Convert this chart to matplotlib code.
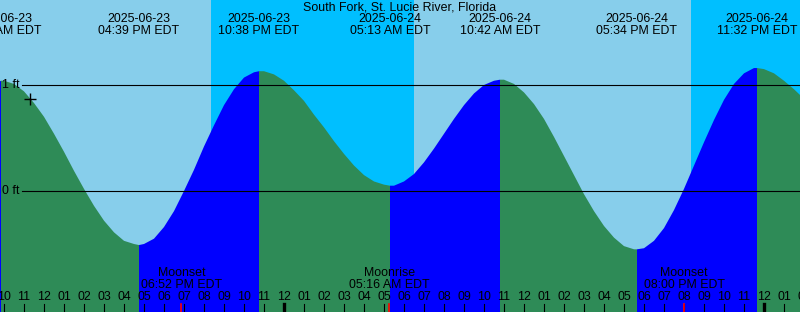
import numpy as np
import matplotlib.pyplot as plt

# Gezeiten South Fork, St. Lucie River - Stunden ab 2025-06-23 00:00 EDT
title = "South Fork, St. Lucie River, Florida"

# Pegel (ft) jede halbe Stunde
hours = np.arange(10, 50.01, 0.5)
levels = [1.04, 1.01, 0.94, 0.83, 0.70, 0.54, 0.37, 0.19, 0.02, -0.14,
          -0.28, -0.39, -0.47, -0.50, -0.50, -0.45, -0.34, -0.19, 0.00, 0.20,
          0.42, 0.62, 0.81, 0.96, 1.07, 1.12, 1.13, 1.10, 1.04, 0.95,
          0.85, 0.72, 0.60, 0.47, 0.35, 0.24, 0.15, 0.09, 0.06, 0.05,
          0.09, 0.16, 0.27, 0.40, 0.54, 0.68, 0.81, 0.92, 1.00, 1.04,
          1.05, 1.01, 0.93, 0.82, 0.68, 0.51, 0.33, 0.15, -0.03, -0.19,
          -0.33, -0.44, -0.52, -0.55, -0.54, -0.47, -0.35, -0.18, 0.02, 0.24,
          0.46, 0.67, 0.86, 1.01, 1.11, 1.16, 1.15, 1.11, 1.04, 0.96,
          0.87]

# Hoch- und Niedrigwasser
ext_hours = [9.85, 16.75, 22.75, 29.3, 34.8, 41.65, 47.65]
ext_levels = [1.04, -0.51, 1.13, 0.05, 1.05, -0.55, 1.16]
ext_dates = ["2025-06-23", "2025-06-23", "2025-06-23", "2025-06-24",
             "2025-06-24", "2025-06-24", "2025-06-24"]
ext_times = ["09:47 AM EDT", "04:39 PM EDT", "10:38 PM EDT", "05:13 AM EDT",
             "10:42 AM EDT", "05:34 PM EDT", "11:32 PM EDT"]

# Nacht (Sonnenuntergang - Sonnenaufgang)
night = [(20.35, 30.5), (44.35, 52.0)]

# Mond
moon_hours = [18.87, 29.27, 44.0]
moon_names = ["Moonset", "Moonrise", "Moonset"]
moon_times = ["06:52 PM EDT", "05:16 AM EDT", "08:00 PM EDT"]

tick_hours = np.arange(10, 51)
t0, t1 = 9.8, 49.8
fs = 8.9
plt.rcParams['font.family'] = ['Liberation Sans', 'DejaVu Sans']


def yp(p):
    # Pixelzeile -> Fuss
    return (191 - p) / 106


# Kurve zusammensetzen
t = np.concatenate([[9.8], hours, ext_hours])
h = np.concatenate([[1.035], levels, ext_levels])
idx = np.argsort(t)
t, h = t[idx], h[idx]

fig = plt.figure(figsize=(8, 3.12), dpi=100)
ax = fig.add_axes([0, 0, 1, 1])
ax.set_xlim(t0, t1)
ax.set_ylim(yp(312), yp(0))
ax.axis('off')

ax.axvspan(t0, t1, color='#87ceeb', lw=0)
for a, b in night:
    ax.axvspan(a, b, color='#00bfff', lw=0)

# steigend blau, fallend gruen
grenzen = [t[0]] + ext_hours + [t[-1]]
for a, b in zip(grenzen[:-1], grenzen[1:]):
    m = (t >= a) & (t <= b)
    steigt = h[m][-1] > h[m][0]
    ax.fill_between(t[m], h[m], -5, color='#0000ff' if steigt else '#2e8b57', lw=0)

# Hilfslinien 0 ft / 1 ft
for lev in [0, 1]:
    ax.plot([10.9, t1], [lev, lev], color='black', lw=0.8)
    ax.text(9.9, lev, f"{lev} ft", ha='left', va='center', fontsize=fs)

ax.plot(11.3, yp(99), marker='+', ms=9, mew=1, color='black')

ax.text(29.8, yp(7), title, ha='center', va='center', fontsize=fs)
for th, d, s in zip(ext_hours, ext_dates, ext_times):
    ax.text(th, yp(19), d, ha='center', va='center', fontsize=fs)
    ax.text(th, yp(31), s, ha='center', va='center', fontsize=fs)

# Stundenskala
for hr in tick_hours:
    ax.text(hr, yp(297), f"{(hr - 1) % 12 + 1:02d}", ha='center', va='center', fontsize=fs)
    lw = 2.4 if hr % 24 == 0 else 0.8
    ax.plot([hr, hr], [yp(304), yp(313)], color='black', lw=lw)

for mh, n, s in zip(moon_hours, moon_names, moon_times):
    ax.plot([mh, mh], [yp(304), yp(313)], color='red', lw=1.2)
    ax.text(mh, yp(273), n, ha='center', va='center', fontsize=fs)
    ax.text(mh, yp(285), s, ha='center', va='center', fontsize=fs)

plt.savefig('out.png', dpi=100)
